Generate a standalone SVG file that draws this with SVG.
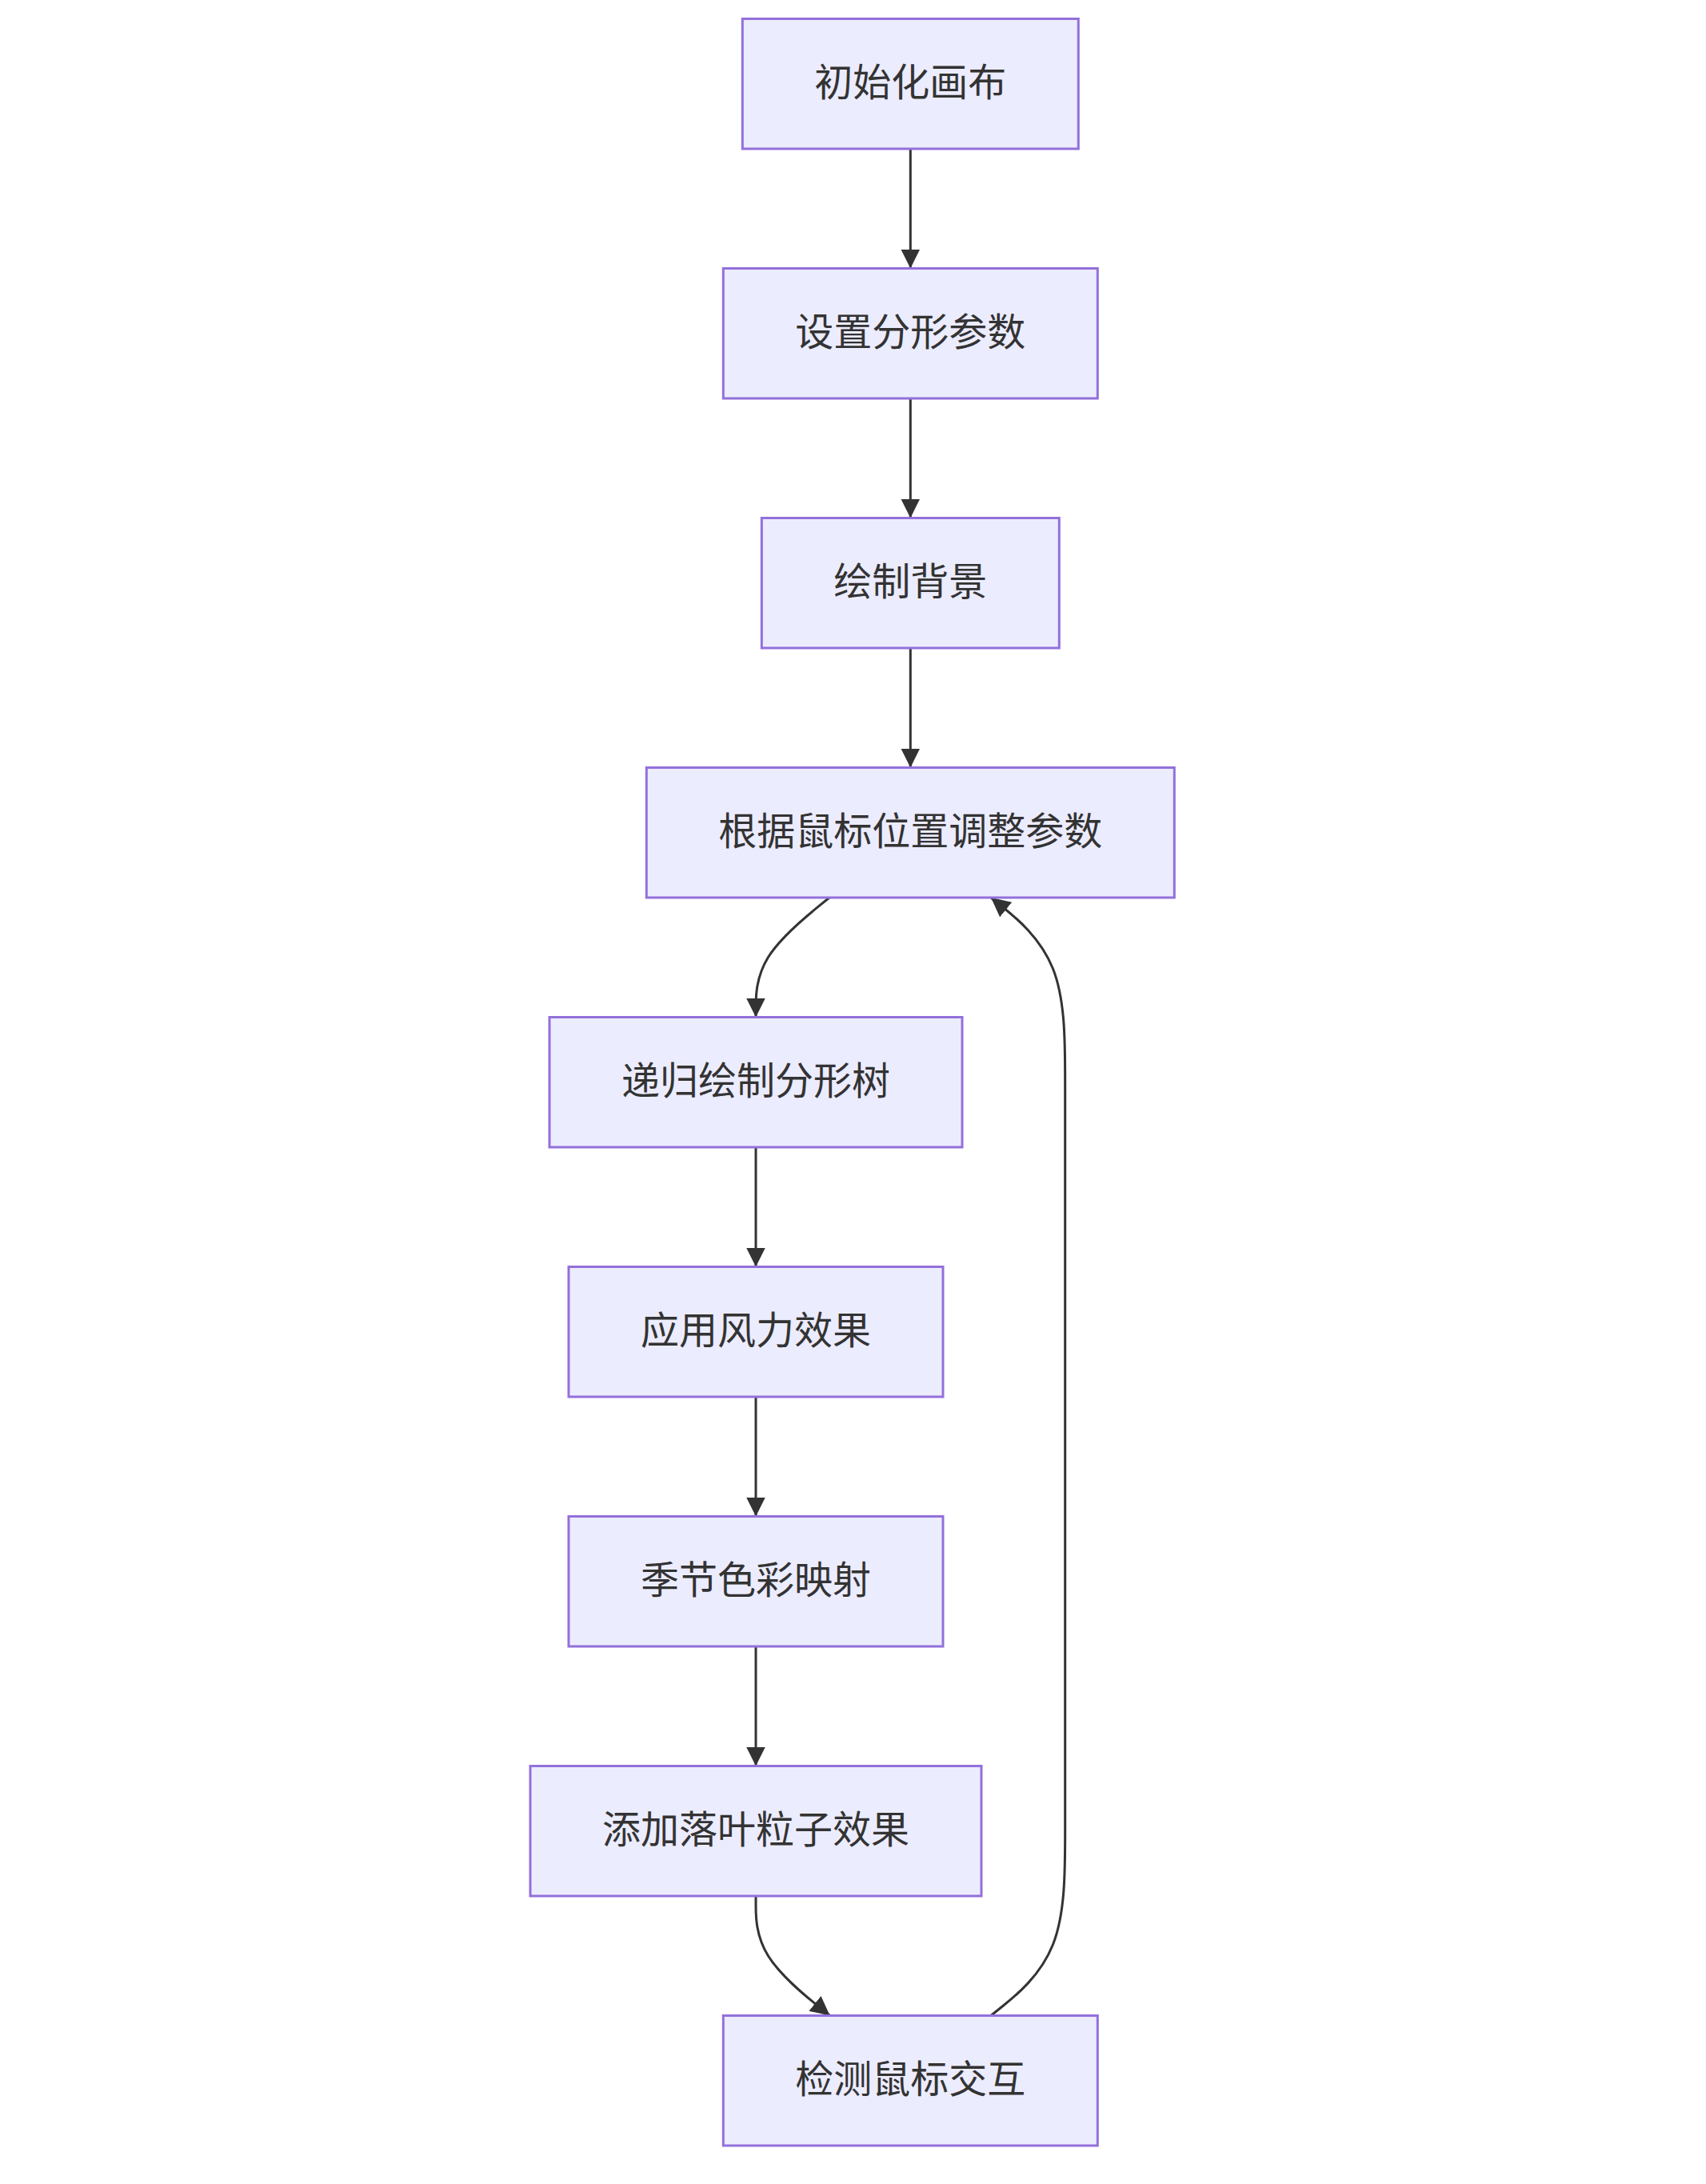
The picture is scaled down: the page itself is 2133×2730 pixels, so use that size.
<svg xmlns="http://www.w3.org/2000/svg" width="2133" height="2730" viewBox="0 0 2133 2730">
  <style>
    .node rect { fill: #ECECFF; stroke: #9370DB; stroke-width: 3; }
    .node text { font-family: "Liberation Sans", "Noto Sans CJK SC", sans-serif; font-size: 48px; fill: #333333; text-anchor: middle; }
    .edge { fill: none; stroke: #333333; stroke-width: 3; marker-end: url(#arrow); }
  </style>
  <defs>
    <marker id="arrow" viewBox="0 0 10 10" refX="10" refY="5" markerUnits="userSpaceOnUse" markerWidth="24" markerHeight="24" orient="auto">
      <path d="M0,0 L10,5 L0,10 z" fill="#333333"/>
    </marker>
  </defs>
  <rect x="0" y="0" width="2133" height="2730" fill="#ffffff"/>

  <g id="connectors">
    <path class="edge" d="M1138.3,186 L1138.3,335.5"/>
    <path class="edge" d="M1138.3,498 L1138.3,647.5"/>
    <path class="edge" d="M1138.3,810 L1138.3,959.5"/>
    <path class="edge" d="M1037,1122 L1021.67,1134.46 C1006.33,1146.92 975.67,1171.83 960.33,1196.75 C945,1221.67 945,1246.58 945,1259.04 L945,1271.5"/>
    <path class="edge" d="M945,1434 L945,1583.5"/>
    <path class="edge" d="M945,1746 L945,1895.5"/>
    <path class="edge" d="M945,2058 L945,2207.5"/>
    <path class="edge" d="M945,2370 L945,2382.46 C945,2394.92 945,2419.83 960.43,2444.75 C975.87,2469.67 1006.73,2494.58 1022.17,2507.04 L1037.6,2519.5"/>
    <path class="edge" d="M1239,2519.5 L1254.45,2507.04 C1269.9,2494.58 1300.8,2469.67 1316.25,2431.2 C1331.7,2392.75 1331.7,2340.75 1331.7,2288.75 L1331.7,1352.75 C1331.7,1300.75 1331.7,1248.75 1316.25,1210.3 C1300.8,1171.83 1269.9,1146.92 1254.45,1134.46 L1239,1122"/>
  </g>

  <g id="n1" class="node">
    <rect x="928.3" y="23.5" width="420" height="162.5"/>
    <text x="1138.3" y="119.75">初始化画布</text>
  </g>
  <g id="n2" class="node">
    <rect x="904.3" y="335.5" width="468" height="162.5"/>
    <text x="1138.3" y="431.75">设置分形参数</text>
  </g>
  <g id="n3" class="node">
    <rect x="952.3" y="647.5" width="372" height="162.5"/>
    <text x="1138.3" y="743.75">绘制背景</text>
  </g>
  <g id="n4" class="node">
    <rect x="808.3" y="959.5" width="660" height="162.5"/>
    <text x="1138.3" y="1055.75">根据鼠标位置调整参数</text>
  </g>
  <g id="n5" class="node">
    <rect x="687" y="1271.5" width="516" height="162.5"/>
    <text x="945" y="1367.75">递归绘制分形树</text>
  </g>
  <g id="n6" class="node">
    <rect x="711" y="1583.5" width="468" height="162.5"/>
    <text x="945" y="1679.75">应用风力效果</text>
  </g>
  <g id="n7" class="node">
    <rect x="711" y="1895.5" width="468" height="162.5"/>
    <text x="945" y="1991.75">季节色彩映射</text>
  </g>
  <g id="n8" class="node">
    <rect x="663" y="2207.5" width="564" height="162.5"/>
    <text x="945" y="2303.75">添加落叶粒子效果</text>
  </g>
  <g id="n9" class="node">
    <rect x="904.3" y="2519.5" width="468" height="162.5"/>
    <text x="1138.3" y="2615.75">检测鼠标交互</text>
  </g>
</svg>
